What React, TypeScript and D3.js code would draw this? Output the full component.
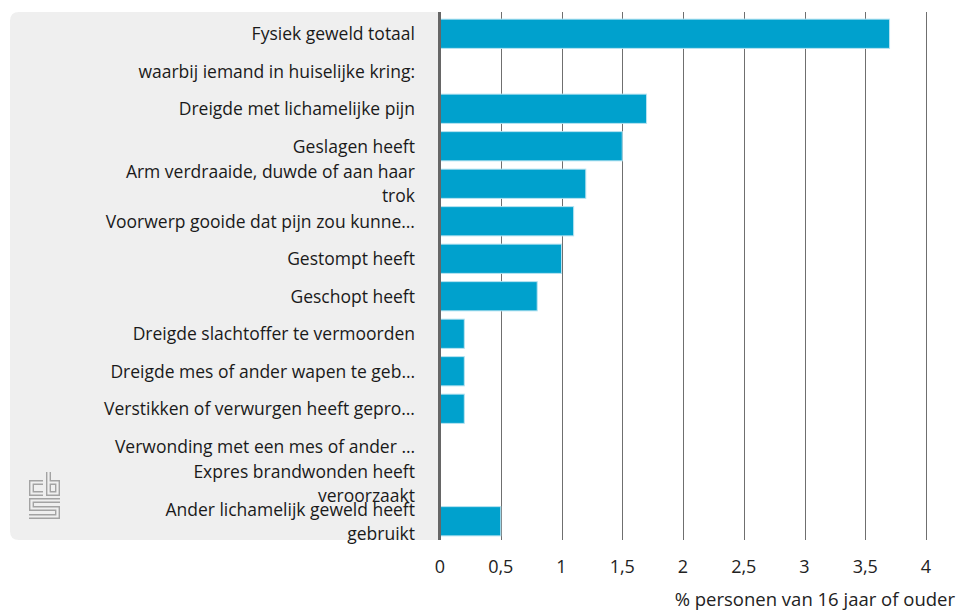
import React, { useEffect, useRef } from 'react';
import * as d3 from 'd3';

// categories as shown in the chart (\n = line break, … = truncated in the original)
const categories = [
  'Fysiek geweld totaal',
  'waarbij iemand in huiselijke kring:',
  'Dreigde met lichamelijke pijn',
  'Geslagen heeft',
  'Arm verdraaide, duwde of aan haar\ntrok',
  'Voorwerp gooide dat pijn zou kunne…',
  'Gestompt heeft',
  'Geschopt heeft',
  'Dreigde slachtoffer te vermoorden',
  'Dreigde mes of ander wapen te geb…',
  'Verstikken of verwurgen heeft gepro…',
  'Verwonding met een mes of ander …',
  'Expres brandwonden heeft\nveroorzaakt',
  'Ander lichamelijk geweld heeft\ngebruikt',
];
const values: (number | null)[] = [3.7, null, 1.7, 1.5, 1.2, 1.1, 1.0, 0.8, 0.2, 0.2, 0.2, 0, 0, 0.5];
const xTicks = [0, 0.5, 1, 1.5, 2, 2.5, 3, 3.5, 4];
const xTitle = '% personen van 16 jaar of ouder';

const W = 964, H = 612;
const FONT = '"Open Sans", sans-serif';

const App = () => {
  const svgRef = useRef<SVGSVGElement>(null);

  useEffect(() => {
    const svg = d3.select(svgRef.current);
    svg.selectAll('*').remove();

    const x = d3.scaleLinear().domain([0, 4]).range([440, 926]);
    const y = d3.scaleBand<string>().domain(categories).range([15, 540])
      .paddingInner(0.22).paddingOuter(0.11);

    const nl = d3.formatLocale({ decimal: ',', thousands: '.', grouping: [3], currency: ['€', ''] });
    const fmt = nl.format('~g');

    // grey panel behind the labels
    const px = 10, py = 12, pw = 430, ph = 528, r = 9;
    svg.append('path')
      .attr('d', `M${px + pw},${py} H${px + r} Q${px},${py} ${px},${py + r} V${py + ph - r} Q${px},${py + ph} ${px + r},${py + ph} H${px + pw} Z`)
      .attr('fill', '#efefef');

    // gridlines
    svg.append('g').selectAll('line')
      .data(xTicks.filter(d => d > 0))
      .enter().append('line')
      .attr('x1', d => Math.round(x(d)) + 0.5).attr('x2', d => Math.round(x(d)) + 0.5)
      .attr('y1', 12).attr('y2', 540)
      .attr('stroke', '#6f6f6f').attr('stroke-width', 1);

    // bars
    const rows = categories.map((c, i) => ({ c, v: values[i] }));
    svg.append('g').selectAll('rect')
      .data(rows.filter(d => d.v !== null && d.v > 0))
      .enter().append('rect')
      .attr('x', x(0))
      .attr('y', d => y(d.c)!)
      .attr('width', d => x(d.v as number) - x(0))
      .attr('height', y.bandwidth())
      .attr('fill', '#00a1cd')
      .attr('stroke', '#b8e3f1').attr('stroke-width', 1);

    // axis line at zero
    svg.append('line')
      .attr('x1', 439.5).attr('x2', 439.5).attr('y1', 12).attr('y2', 540)
      .attr('stroke', '#666').attr('stroke-width', 3);

    // category labels
    const lab = svg.append('g').attr('font-family', FONT).attr('font-size', 17.5)
      .attr('fill', '#1a1a1a').attr('text-anchor', 'end');
    rows.forEach(d => {
      const lines = d.c.split('\n');
      const cy = y(d.c)! + y.bandwidth() / 2;
      const lh = 24;
      lines.forEach((t, j) => {
        lab.append('text')
          .attr('x', 415)
          .attr('y', cy + (j - (lines.length - 1) / 2) * lh)
          .attr('dy', '0.36em')
          .text(t);
      });
    });

    // x tick labels
    svg.append('g').attr('font-family', FONT).attr('font-size', 18)
      .attr('fill', '#222').attr('text-anchor', 'middle')
      .selectAll('text').data(xTicks).enter().append('text')
      .attr('x', d => x(d)).attr('y', 573)
      .text(d => fmt(d));

    // axis title
    svg.append('text')
      .attr('x', 955).attr('y', 606)
      .attr('text-anchor', 'end')
      .attr('font-family', FONT).attr('font-size', 18.5).attr('fill', '#222')
      .text(xTitle);

    // cbs logo (outlined)
    const logo = svg.append('g').attr('transform', 'translate(29,472)').attr('fill', 'none');
    const paths = [
      'M14,10.5 H2.5 V21.5 H14',
      'M19.5,0 V21.5 H28.5 V10.5 H19.5',
      'M31,28.5 H2.5 V36.5 H28.5 V44.5 H0',
    ];
    paths.forEach(p => {
      logo.append('path').attr('d', p).attr('stroke', '#a3a3a3').attr('stroke-width', 5);
      logo.append('path').attr('d', p).attr('stroke', '#efefef').attr('stroke-width', 2.2);
    });
  }, []);

  return (
    <svg ref={svgRef} width={W} height={H}
      style={{ position: 'absolute', left: 0, top: 0, background: '#fff' }} />
  );
};

export default App;
